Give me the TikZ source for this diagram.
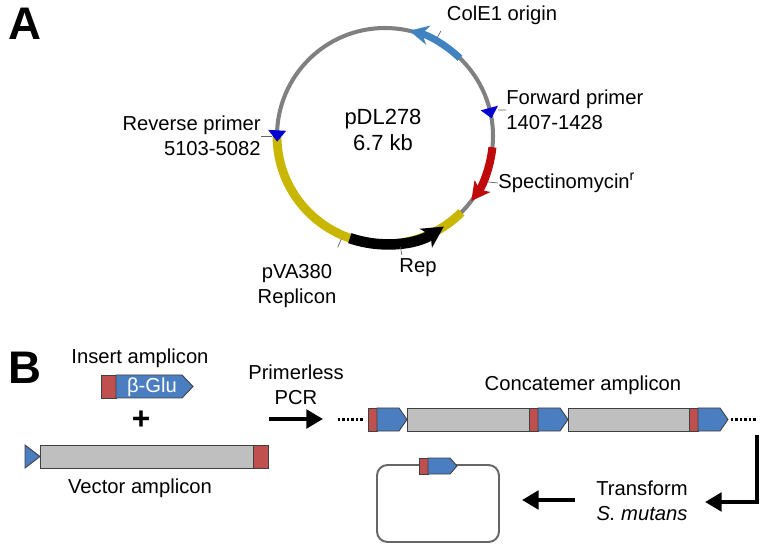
\documentclass[tikz,border=0pt]{standalone}
\usepackage{fontspec}
\setmainfont{Liberation Sans}
\usepackage{xcolor}
\usepackage{tikz}
\usetikzlibrary{arrows.meta,calc,positioning}

\definecolor{segblue}{RGB}{74,126,193}
\definecolor{segred}{RGB}{192,80,77}
\definecolor{seggray}{RGB}{191,191,191}
\definecolor{backbone}{RGB}{128,128,128}
\definecolor{specred}{RGB}{190,10,10}
\definecolor{repyellow}{RGB}{200,182,0}
\definecolor{primerblue}{RGB}{0,0,210}
\definecolor{oriblue}{RGB}{65,130,192}

\tikzset{
  lbl/.style={font=\fontsize{11.5}{14}\selectfont, inner sep=0pt},
  panel/.style={font=\fontsize{26}{30}\selectfont\bfseries, inner sep=0pt},
  ticks/.style={draw=black!60, line width=0.4pt},
  band/.style={line width=5pt},
  redseg/.style={fill=segred, draw=black!75, line width=0.5pt},
  blueseg/.style={fill=segblue, draw=black!75, line width=0.5pt},
  grayseg/.style={fill=seggray, draw=black!75, line width=0.5pt},
  dots/.style={line width=1.2pt, dash pattern=on 1.2pt off 1.35pt},
  bigarrow/.style={line width=2.3pt, -{Triangle[length=9.5pt,width=10.5pt]}},
}

\begin{document}
\begin{tikzpicture}[x=0.02cm, y=-0.02cm]

  \useasboundingbox (0,0) rectangle (764,550);

  \node[panel] (pa) at (25,24) {A};
  \node[panel] (pb) at (25,368) {B};

  % plasmid map
  \coordinate (pc) at (385,136);
  \begin{scope}[shift={(pc)}]
    \draw[backbone, line width=2.3pt] (0,0) circle (108);
    \draw[repyellow, band] (180:108) arc (180:45:108);
    \draw[black, line width=6pt, -{Stealth[length=12pt,width=12.5pt,inset=3pt]}] (109:108) arc (109:57:108);
    \draw[specred, line width=4.6pt, -{Stealth[length=10.5pt,width=11pt,inset=2.5pt]}] (6:108) arc (6:37:108);
    \draw[oriblue, line width=4pt, -{Stealth[length=11pt,width=11pt,inset=3.5pt]}] (-46:108) arc (-46:-77:108);

    \fill[primerblue] (-9.5:108) -- (-15:99) -- (-15:117) -- cycle;
    \fill[primerblue] (177:108) -- (183:99) -- (183:117) -- cycle;

    \draw[ticks] (-62:111) -- (-62:119);
    \draw[ticks] (82:112) -- (82:120);
    \draw[ticks] (113:112) -- (113:121);

    \coordinate (fp) at (-13:116);
    \coordinate (rp) at (180:113);
    \coordinate (sp) at (24:113);
  \end{scope}

  \node[lbl, align=center, font=\fontsize{12.5}{14.8}\selectfont] (pname) at (383,130) {pDL278\\6.7 kb};
  \node[lbl] (ori) at (502,15) {ColE1 origin};
  \node[lbl, anchor=west, align=left] (fwd) at (506,110) {Forward primer\\1407-1428};
  \node[lbl, anchor=east, align=right] (rev) at (261,136) {Reverse primer\\5103-5082};
  \node[lbl, anchor=west] (spc) at (498,183) {Spectinomycin\textsuperscript{r}};
  \node[lbl] (rep) at (418,268) {Rep};
  \node[lbl, align=center] (pva) at (297,286) {pVA380\\Replicon};

  \draw[ticks] (fwd.west) -- (fp);
  \draw[ticks] (rev.east) -- (rp);
  \draw[ticks] (spc.west) -- (sp);

  % insert and vector
  \node[lbl] (instxt) at (140,358) {Insert amplicon};
  \filldraw[redseg] (101,375) rectangle (116,398);
  \filldraw[blueseg] (116,375) -- (182,375) -- (193,386.5) -- (182,398) -- (116,398) -- cycle;
  \node[lbl, text=white] (glu) at (152,387) {β-Glu};

  \node[font=\fontsize{18}{20}\selectfont\bfseries, inner sep=0pt] (plus) at (141,420) {+};

  \filldraw[blueseg] (25,445) -- (40,456.5) -- (25,468) -- cycle;
  \filldraw[grayseg] (40,445) rectangle (253,468);
  \filldraw[redseg] (253,445) rectangle (268,468);
  \node[lbl] (vectxt) at (140,488) {Vector amplicon};

  % primerless PCR
  \node[lbl, align=center] (pcr) at (296,385) {Primerless\\PCR};
  \coordinate (pcrs) at (269,419);
  \coordinate (pcre) at (323,419);
  \draw[bigarrow] (pcrs) -- (pcre);

  % concatemer
  \node[lbl] (contxt) at (583,385) {Concatemer amplicon};
  \draw[dots] (338,419.5) -- (364,419.5);
  \filldraw[grayseg] (407,408) rectangle (529,431);
  \filldraw[grayseg] (568,408) rectangle (689,431);
  \foreach \x in {368,529,689}
  {
    \filldraw[redseg] (\x,408) rectangle ++(9,23);
    \filldraw[blueseg] (\x+9,408) -- ++(22,0) -- ++(8,11.5) -- ++(-8,11.5) -- ++(-22,0) -- cycle;
  }
  \draw[dots] (731,419.5) -- (757,419.5);

  % transformation
  \coordinate (bendtop) at (757,435);
  \coordinate (bendend) at (705,502);
  \draw[bigarrow] (bendtop) |- (bendend);
  \node[lbl, align=center] (trf) at (642,501) {Transform\\\textit{S. mutans}};
  \coordinate (trs) at (575,500);
  \coordinate (tre) at (522,500);
  \draw[bigarrow] (trs) -- (tre);

  \node[draw=black!60, line width=1.1pt, rounded corners=6pt, minimum width=2.44cm, minimum height=1.54cm] (ring) at (438,503.5) {};
  \filldraw[redseg] (419,458) rectangle (428,474);
  \filldraw[blueseg] (428,458) -- (450,458) -- (457,466) -- (450,474) -- (428,474) -- cycle;

\end{tikzpicture}
\end{document}
